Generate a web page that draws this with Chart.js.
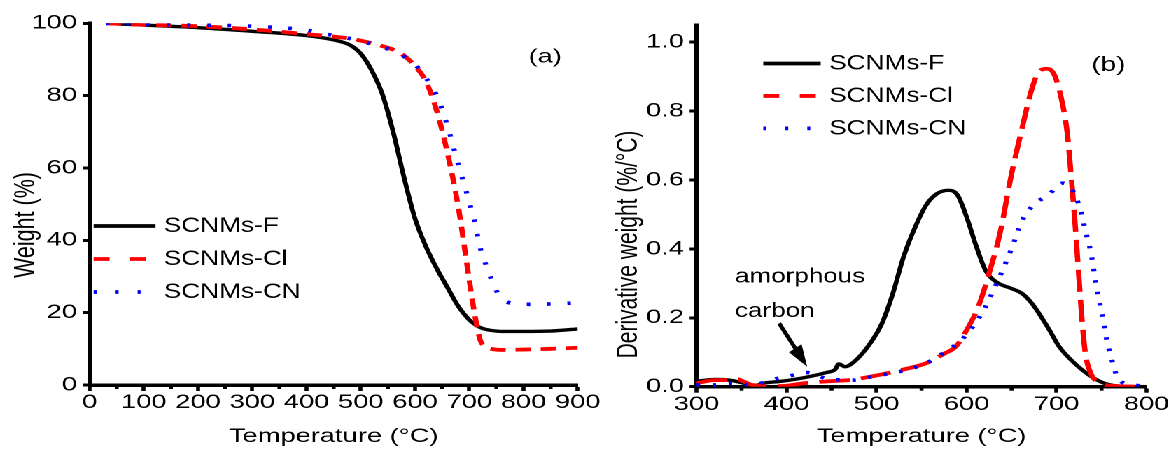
<!DOCTYPE html>
<html>
<head>
<meta charset="utf-8">
<script src="https://cdn.jsdelivr.net/npm/chart.js@4.4.1/dist/chart.umd.min.js"></script>
<style>
  html, body { margin: 0; padding: 0; background: #fff; overflow: hidden; }
  /* the figure is drawn narrow and widened horizontally as a whole */
  #stage { position: absolute; left: 0; top: 0; width: 836px; height: 452px;
           transform: scaleX(1.4); transform-origin: 0 0; }
  #tga { position: absolute; left: 0; top: 0; }
  #dtg { position: absolute; left: 429px; top: 0; }
</style>
</head>
<body>
<div id="stage">
  <canvas id="tga" width="429" height="452"></canvas>
  <canvas id="dtg" width="407" height="452"></canvas>
</div>
<script>
const STRETCH = 1.4;
const FONT = "'Liberation Sans', Arial, Helvetica, sans-serif";

// ---- (a) thermogravimetric curves: weight (%) vs temperature (°C)
const tgaTemp = [30, 100, 200, 300, 400, 450, 480, 500, 520, 540, 560, 580, 600, 620, 640, 660, 680, 700, 710, 720, 730, 740, 760, 800, 850, 900];
const tgaF    = [100, 99.5, 98.8, 97.8, 96.6, 95.4, 94.0, 91.6, 87.0, 80.3, 69.8, 57.2, 46.0, 38.3, 32.2, 26.9, 21.7, 18.0, 16.8, 15.9, 15.4, 15.1, 14.8, 14.8, 14.9, 15.5];
const tgaCl   = [100, 99.6, 99.2, 98.3, 97.0, 96.3, 95.8, 95.2, 94.5, 93.7, 92.7, 91.0, 88.2, 84.0, 75.8, 64.0, 49.0, 29.0, 19.5, 12.5, 10.6, 10.0, 9.7, 9.8, 10.0, 10.3];
const tgaCN   = [100, 99.8, 99.5, 99.2, 98.1, 96.6, 95.8, 95.0, 94.3, 93.4, 92.3, 90.8, 88.6, 84.9, 80.0, 71.5, 60.8, 50.6, 45.0, 38.0, 33.5, 29.5, 23.8, 22.3, 22.4, 22.7];

// ---- (b) derivative curves: derivative weight (%/°C) vs temperature (°C)
const dtgTempF = [300, 320, 337, 353, 364, 374, 395, 419, 444, 454, 458, 465, 477, 493, 506, 518, 530, 543, 555, 567, 580, 590, 600, 611, 621, 633, 650, 662, 674, 691, 703, 720, 736, 753, 769, 800];
const dtgF     = [0.016, 0.021, 0.019, 0.010, 0.003, 0.010, 0.016, 0.026, 0.041, 0.050, 0.066, 0.058, 0.077, 0.126, 0.184, 0.270, 0.377, 0.464, 0.527, 0.560, 0.570, 0.556, 0.493, 0.406, 0.338, 0.304, 0.285, 0.270, 0.237, 0.169, 0.116, 0.068, 0.034, 0.010, 0.002, 0.000];
const dtgTempCl = [300, 320, 333, 345, 353, 362, 378, 395, 419, 448, 469, 493, 518, 535, 555, 576, 588, 600, 613, 625, 637, 650, 662, 672, 680, 689, 697, 705, 712, 716, 720, 724, 728, 732, 738, 749, 765, 800];
const dtgCl     = [0.010, 0.019, 0.019, 0.022, 0.014, 0.005, 0.003, 0.002, 0.010, 0.016, 0.019, 0.029, 0.043, 0.053, 0.068, 0.097, 0.116, 0.164, 0.232, 0.329, 0.444, 0.618, 0.754, 0.860, 0.913, 0.923, 0.908, 0.840, 0.734, 0.618, 0.493, 0.348, 0.203, 0.097, 0.039, 0.010, 0.002, 0.000];
const dtgTempCN = [300, 318, 339, 362, 382, 403, 423, 444, 473, 495, 516, 535, 555, 576, 594, 607, 619, 629, 640, 650, 662, 674, 691, 707, 720, 728, 732, 738, 742, 746, 751, 755, 761, 769, 786, 800];
const dtgCN     = [0.005, 0.005, 0.010, 0.005, 0.019, 0.031, 0.041, 0.024, 0.019, 0.029, 0.039, 0.050, 0.068, 0.101, 0.135, 0.174, 0.222, 0.275, 0.338, 0.401, 0.483, 0.527, 0.557, 0.591, 0.560, 0.498, 0.454, 0.391, 0.329, 0.266, 0.208, 0.145, 0.082, 0.021, 0.005, 0.000];

const seriesNames = ['SCNMs-F', 'SCNMs-Cl', 'SCNMs-CN'];
const tgaTicksX = [0, 900, 100];
const tgaTicksY = [0, 100, 20];
const dtgTicksX = [300, 800, 100];
const dtgTicksY = [0, 1.05, 0.2];

function series(temps, vals) { return temps.map((t, i) => ({ x: t, y: vals[i] })); }

function drawText(ctx, text, x, y, size, stretch, align, baseline) {
  ctx.save();
  ctx.translate(x, y);
  ctx.scale(stretch / STRETCH, 1);
  ctx.font = size + 'px ' + FONT;
  ctx.fillStyle = '#000';
  ctx.textAlign = align;
  ctx.textBaseline = baseline;
  ctx.fillText(text, 0, 0);
  ctx.restore();
}

// minor ticks, rotated y title, in-plot legend, panel letter and notes
const panelDecor = {
  id: 'panelDecor',
  afterDraw(chart, args, o) {
    const ctx = chart.ctx, xs = chart.scales.x, ys = chart.scales.y;
    ctx.save();
    ctx.strokeStyle = '#000';
    ctx.fillStyle = '#000';
    ctx.lineWidth = o.minorWidth;
    o.minorTicks.forEach(v => {
      const px = xs.getPixelForValue(v);
      ctx.beginPath();
      ctx.moveTo(px, xs.top);
      ctx.lineTo(px, xs.top + o.minorLength);
      ctx.stroke();
    });

    ctx.save();
    ctx.translate(o.yTitle.x, o.yTitle.y);
    ctx.rotate(-Math.PI / 2);
    ctx.font = o.yTitle.size + 'px ' + FONT;
    ctx.textAlign = 'center';
    ctx.textBaseline = 'middle';
    ctx.fillText(o.yTitle.text, 0, 0);
    ctx.restore();

    const L = o.legend;
    chart.data.datasets.forEach((ds, i) => {
      const y = ys.getPixelForValue(L.rows[i]);
      const x1 = xs.getPixelForValue(L.lineFrom) * STRETCH;
      const x2 = xs.getPixelForValue(L.lineTo) * STRETCH;
      ctx.save();
      ctx.scale(1 / STRETCH, 1);
      ctx.strokeStyle = ds.borderColor;
      ctx.lineWidth = L.lineWidth;
      ctx.setLineDash(L.dashes[i]);
      ctx.beginPath();
      ctx.moveTo(x1, y);
      ctx.lineTo(x2, y);
      ctx.stroke();
      ctx.restore();
      drawText(ctx, ds.label, xs.getPixelForValue(L.textAt), y, L.size, L.stretch, 'left', 'middle');
    });

    (o.notes || []).forEach(n => {
      drawText(ctx, n.text, xs.getPixelForValue(n.at[0]), ys.getPixelForValue(n.at[1]), n.size, n.stretch, n.align, n.baseline);
    });

    if (o.arrow) {
      const a = o.arrow;
      const sx = xs.getPixelForValue(a.from[0]) * STRETCH, sy = ys.getPixelForValue(a.from[1]);
      const tx = xs.getPixelForValue(a.to[0]) * STRETCH, ty = ys.getPixelForValue(a.to[1]);
      const dx = tx - sx, dy = ty - sy, len = Math.hypot(dx, dy);
      const ux = dx / len, uy = dy / len;
      const bx = tx - ux * a.head, by = ty - uy * a.head;
      ctx.save();
      ctx.scale(1 / STRETCH, 1);
      ctx.lineWidth = a.width;
      ctx.beginPath();
      ctx.moveTo(sx, sy);
      ctx.lineTo(bx + ux * 2, by + uy * 2);
      ctx.stroke();
      ctx.beginPath();
      ctx.moveTo(tx, ty);
      ctx.lineTo(bx - uy * a.half, by + ux * a.half);
      ctx.lineTo(bx + uy * a.half, by - ux * a.half);
      ctx.closePath();
      ctx.fill();
      ctx.restore();
    }
    ctx.restore();
  }
};

function axis(range, opt) {
  return {
    type: 'linear',
    min: range[0], max: range[1],
    border: { display: true, color: '#000', width: 3.5 },
    grid: { display: true, drawOnChartArea: false, drawTicks: true, color: '#000',
            tickColor: '#000', tickLength: opt.tickLength, tickWidth: opt.tickWidth },
    ticks: { stepSize: range[2], autoSkip: false, maxRotation: 0, minRotation: 0,
             includeBounds: false, padding: opt.padding, color: '#000',
             font: { family: FONT, size: 19.5 }, callback: opt.format },
    title: opt.title
      ? { display: true, text: opt.title, color: '#000', font: { family: FONT, size: 19.5 },
          padding: { top: 0, bottom: 3.5 } }
      : { display: false },
    afterFit: opt.afterFit
  };
}

function lineSet(name, data, color, width, dash, order) {
  return { label: name, data: data, borderColor: color, backgroundColor: color,
           borderWidth: width, borderDash: dash, borderCapStyle: 'butt',
           pointRadius: 0, fill: false, cubicInterpolationMode: 'monotone', order: order };
}

const legendDashes = [[], [16, 20.5], [3, 19]];

new Chart(document.getElementById('tga'), {
  type: 'line',
  data: {
    datasets: [
      lineSet(seriesNames[0], series(tgaTemp, tgaF), '#000000', 3.4, [], 2),
      lineSet(seriesNames[1], series(tgaTemp, tgaCl), '#ff0000', 3.8, [11, 7], 1),
      lineSet(seriesNames[2], series(tgaTemp, tgaCN), '#0000ff', 3.6, [2.5, 12], 0)
    ]
  },
  options: {
    responsive: false, animation: false, events: [], devicePixelRatio: 2,
    layout: { padding: { top: 23.3, right: 16, bottom: 0, left: 0 } },
    scales: {
      x: axis(tgaTicksX, { tickLength: 6, tickWidth: 2.8, padding: 0, title: 'Temperature (°C)',
                           format: v => String(v), afterFit: s => { s.height = 67; } }),
      y: axis(tgaTicksY, { tickLength: 5, tickWidth: 3, padding: 4,
                           format: v => String(v), afterFit: s => { s.width = 64; } })
    },
    plugins: {
      legend: { display: false },
      tooltip: { enabled: false },
      panelDecor: {
        minorTicks: [50, 150, 250, 350, 450, 550, 650, 750, 850],
        minorLength: 4, minorWidth: 2.8,
        yTitle: { text: 'Weight (%)', x: 18.5, y: 225, size: 21.5 },
        legend: { rows: [43.96, 34.84, 25.71], lineFrom: 7.4, lineTo: 121.5, textAt: 136.8,
                  lineWidth: 3.8, dashes: legendDashes, size: 21.5, stretch: 1.22 },
        notes: [ { text: '(a)', at: [839.8, 90.68], size: 19.5, stretch: 1.4, align: 'center', baseline: 'middle' } ]
      }
    }
  },
  plugins: [panelDecor]
});

new Chart(document.getElementById('dtg'), {
  type: 'line',
  data: {
    datasets: [
      lineSet(seriesNames[0], series(dtgTempF, dtgF), '#000000', 3.4, [], 2),
      lineSet(seriesNames[1], series(dtgTempCl, dtgCl), '#ff0000', 3.8, [22, 8], 1),
      lineSet(seriesNames[2], series(dtgTempCN, dtgCN), '#0000ff', 3.6, [2.5, 9], 0)
    ]
  },
  options: {
    responsive: false, animation: false, events: [], devicePixelRatio: 2,
    layout: { padding: { top: 25, right: 17, bottom: 0, left: 0 } },
    scales: {
      x: axis(dtgTicksX, { tickLength: 6, tickWidth: 2.8, padding: 0, title: 'Temperature (°C)',
                           format: v => String(v), afterFit: s => { s.height = 65.3; } }),
      y: axis(dtgTicksY, { tickLength: 5, tickWidth: 3, padding: 4,
                           format: v => Number(v).toFixed(1), afterFit: s => { s.width = 68.6; } })
    },
    plugins: {
      legend: { display: false },
      tooltip: { enabled: false },
      panelDecor: {
        minorTicks: [350, 450, 550, 650, 750],
        minorLength: 4, minorWidth: 2.8,
        yTitle: { text: 'Derivative weight (%/°C)', x: 20.1, y: 244.5, size: 21 },
        legend: { rows: [0.9383, 0.8441, 0.7499], lineFrom: 374.1, lineTo: 437.9, textAt: 447.3,
                  lineWidth: 3.8, dashes: legendDashes, size: 21.5, stretch: 1.22 },
        notes: [
          { text: '(b)', at: [757.8, 0.9325], size: 20, stretch: 1.4, align: 'center', baseline: 'middle' },
          { text: 'amorphous', at: [342.6, 0.3026], size: 20.5, stretch: 1.27, align: 'left', baseline: 'alphabetic' },
          { text: 'carbon', at: [342.6, 0.2029], size: 20.5, stretch: 1.27, align: 'left', baseline: 'alphabetic' }
        ],
        arrow: { from: [391.8, 0.1838], to: [422.9, 0.058], head: 22, half: 7.5, width: 4 }
      }
    }
  },
  plugins: [panelDecor]
});
</script>
</body>
</html>
